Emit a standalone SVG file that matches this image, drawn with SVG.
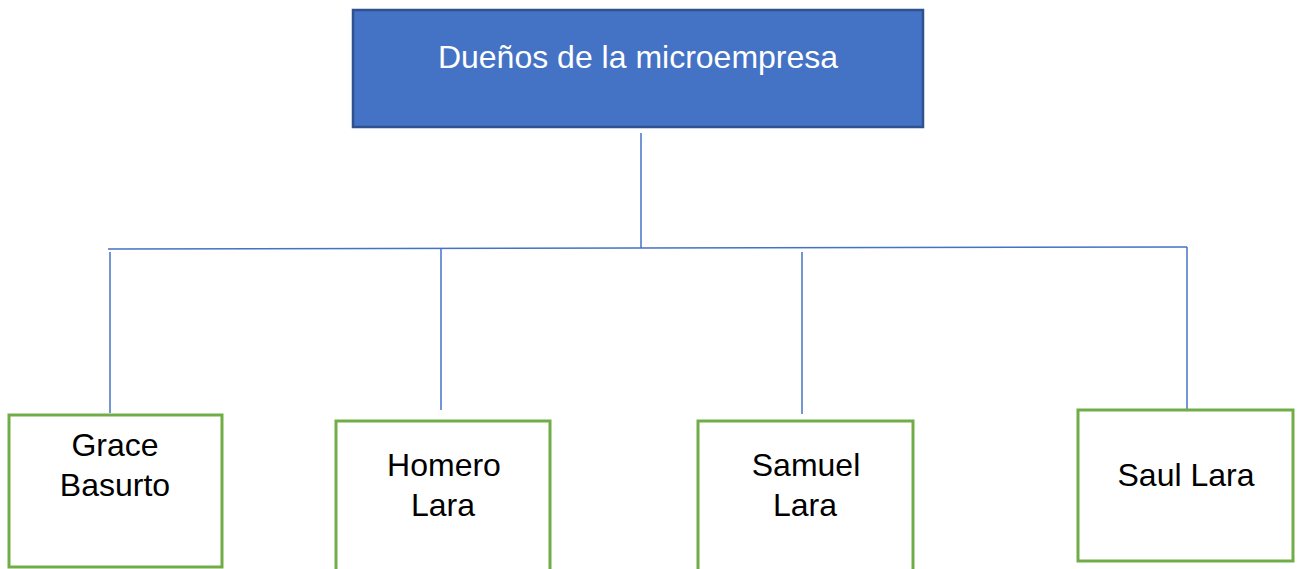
<svg xmlns="http://www.w3.org/2000/svg" width="1299" height="569" viewBox="0 0 1299 569">
<style>
.top{fill:#4472C4;stroke:#2F528F;stroke-width:2.5}
.box{fill:#FFFFFF;stroke:#70AD47;stroke-width:3}
.lbl{font-family:"Liberation Sans",Arial,sans-serif;font-size:32px;text-anchor:middle;fill:#000}
.tlbl{font-family:"Liberation Sans",Arial,sans-serif;font-size:32px;text-anchor:middle;fill:#FFFFFF}
.con{stroke:#4472C4;stroke-width:1.5;fill:none}
</style>
<rect width="1299" height="569" fill="#FFFFFF"/>
<g id="connectors">
<line class="con" x1="641" y1="133" x2="641" y2="248"/>
<line class="con" x1="108" y1="249" x2="1187" y2="247"/>
<line class="con" x1="110" y1="252" x2="110" y2="413"/>
<line class="con" x1="441" y1="248" x2="441" y2="410"/>
<line class="con" x1="802" y1="252" x2="802" y2="414"/>
<line class="con" x1="1187" y1="247" x2="1187" y2="409"/>
</g>
<g id="node-duenos">
<rect class="top" x="353" y="10" width="570" height="117"/>
<text class="tlbl" x="638" y="68">Dueños de la microempresa</text>
</g>
<g id="node-grace">
<rect class="box" x="9" y="415" width="213" height="152"/>
<text class="lbl" x="115" y="456">Grace</text>
<text class="lbl" x="115" y="496">Basurto</text>
</g>
<g id="node-homero">
<rect class="box" x="336" y="421" width="214" height="152"/>
<text class="lbl" x="444" y="476">Homero</text>
<text class="lbl" x="443" y="516">Lara</text>
</g>
<g id="node-samuel">
<rect class="box" x="698" y="421" width="215" height="152"/>
<text class="lbl" x="806" y="476">Samuel</text>
<text class="lbl" x="805" y="516">Lara</text>
</g>
<g id="node-saul">
<rect class="box" x="1078" y="410" width="215" height="151"/>
<text class="lbl" x="1186" y="486">Saul Lara</text>
</g>
</svg>
